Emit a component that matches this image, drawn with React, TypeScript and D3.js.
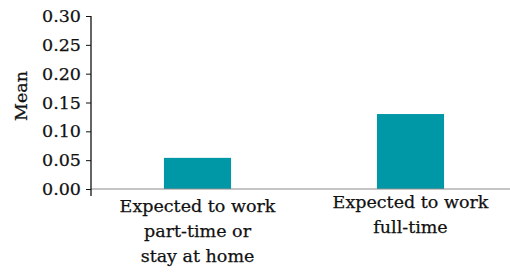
import { useEffect, useRef } from 'react';
import * as d3 from 'd3';

const categories = ['part', 'full'];
const categoryLabels = [
  ['Expected to work', 'part-time or', 'stay at home'],
  ['Expected to work', 'full-time'],
];
const means = [0.054, 0.13];
const yTicks = [0, 0.05, 0.1, 0.15, 0.2, 0.25, 0.3];

export default function App() {
  const gx = useRef<SVGGElement>(null),
    gy = useRef<SVGGElement>(null);

  const width = 510,
    height = 272,
    marginTop = 16,
    marginLeft = 91,
    zeroY = 189;

  const font = '"DejaVu Serif", serif';

  const x = d3
    .scaleBand()
    .domain(categories)
    .range([marginLeft, 517])
    .paddingInner(0.685)
    .paddingOuter(0.3425);

  const y = d3.scaleLinear().domain([0, 0.3]).range([zeroY, marginTop]);

  useEffect(() => {
    const yAxis = d3.select(gy.current!);
    yAxis.call(
      d3
        .axisLeft(y)
        .tickValues(yTicks)
        .tickFormat(d3.format('.2f'))
        .tickSize(5)
        .tickPadding(5)
    );
    yAxis.select('.domain').remove();
    yAxis.selectAll('.tick line').attr('stroke', '#111');
    yAxis
      .selectAll('.tick text')
      .attr('font-family', font)
      .attr('font-size', 17.5)
      .attr('fill', '#111')
      .attr('stroke', '#111')
      .attr('stroke-width', 0.25);
  }, []);

  return (
    <svg
      width={width}
      height={height}
      style={{ position: 'absolute', left: 0, top: 0, background: '#fff' }}
    >
      {means.map((v, i) => (
        <rect
          key={categories[i]}
          x={x(categories[i])}
          y={y(v)}
          width={x.bandwidth()}
          height={zeroY - y(v)}
          fill="#0097a7"
        />
      ))}
      <line x1={marginLeft} x2={width} y1={zeroY} y2={zeroY} stroke="#8a8a8a" />
      <line
        x1={marginLeft}
        x2={marginLeft}
        y1={marginTop}
        y2={zeroY + 7}
        stroke="#111"
        strokeWidth={1.3}
      />
      <g ref={gy} transform={`translate(${marginLeft},0)`} />
      <g ref={gx}>
        {categoryLabels.map((lines, i) => (
          <text
            key={i}
            x={x(categories[i])! + x.bandwidth() / 2}
            y={i === 0 ? 212 : 208}
            textAnchor="middle"
            fontFamily={font}
            fontSize={17.5}
            fill="#111"
            stroke="#111"
            strokeWidth={0.25}
          >
            {lines.map((l, j) => (
              <tspan key={j} x={x(categories[i])! + x.bandwidth() / 2} dy={j === 0 ? 0 : 25}>
                {l}
              </tspan>
            ))}
          </text>
        ))}
      </g>
      <text
        transform="translate(27,96) rotate(-90)"
        textAnchor="middle"
        fontFamily={font}
        fontSize={17.5}
        fill="#111"
        stroke="#111"
        strokeWidth={0.25}
      >
        Mean
      </text>
    </svg>
  );
}
